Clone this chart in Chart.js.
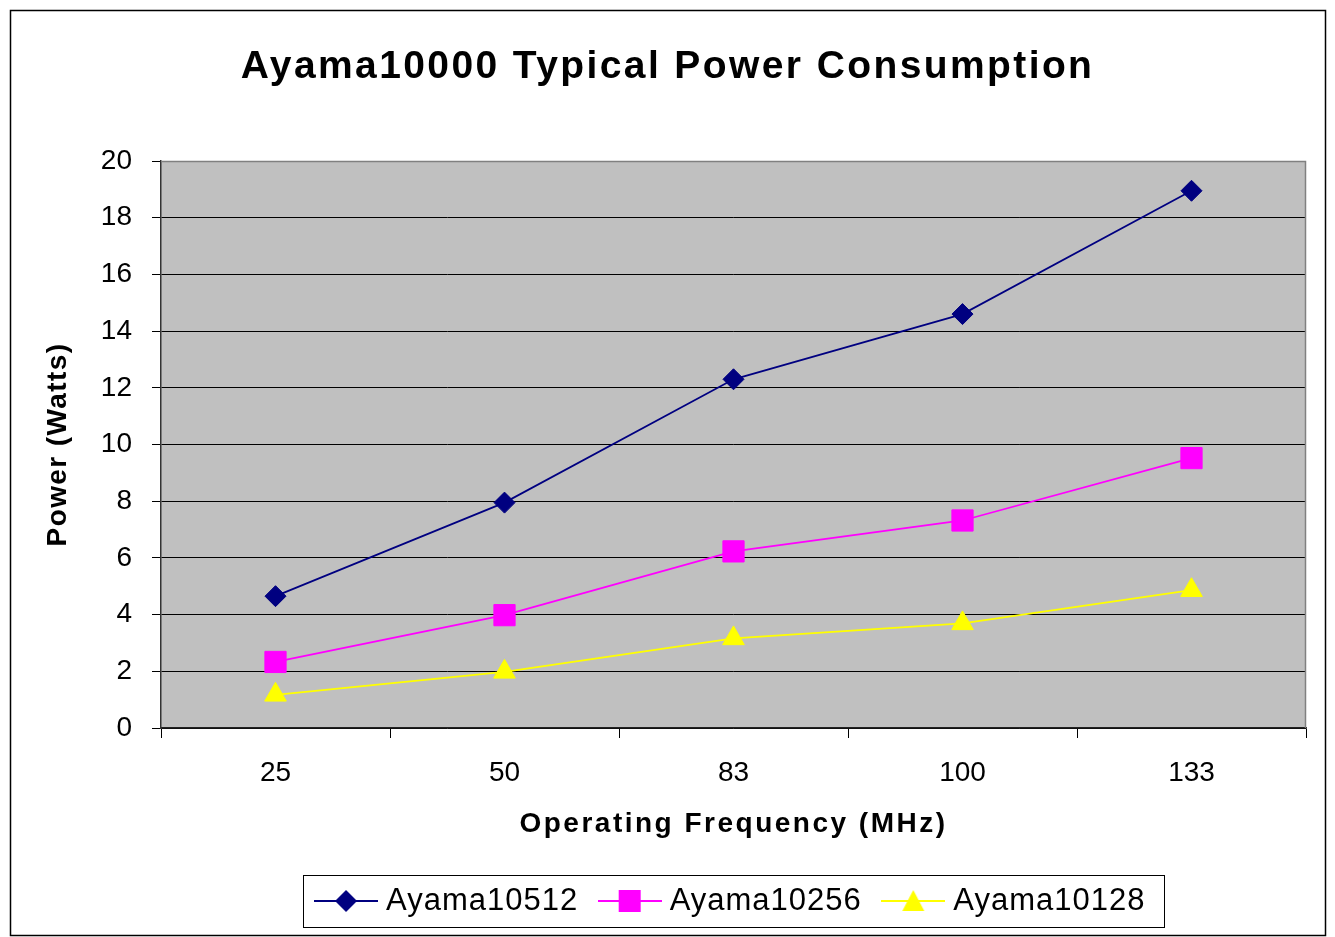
<!DOCTYPE html>
<html>
<head>
<meta charset="utf-8">
<title>Ayama10000 Typical Power Consumption</title>
<script src="https://cdn.jsdelivr.net/npm/chart.js@4/dist/chart.umd.min.js"></script>
<style>
  html, body { margin: 0; padding: 0; background: #fff; }
  canvas { display: block; }
</style>
</head>
<body>
<canvas id="powerChart" width="1335" height="937"></canvas>
<script>
// Operating frequency categories (MHz) and measured power per part (Watts)
const frequencies = ['25', '50', '83', '100', '133'];
const ayama10512 = [4.65, 7.95, 12.3, 14.6, 18.95];
const ayama10256 = [2.33, 3.98, 6.23, 7.32, 9.52];
const ayama10128 = [1.17, 1.98, 3.16, 3.69, 4.86];
const powerMin = 0;
const powerMax = 20;
const powerStep = 2;

Chart.defaults.font.family = "'Liberation Sans', Arial, sans-serif";
Chart.defaults.color = '#000';

// wraps an element's drawing methods so its text gets extra tracking
function withSpacing(el, methods, px) {
    if (!el || el._spaced) return;
    el._spaced = true;
    methods.forEach(m => {
        const orig = el[m];
        el[m] = function () {
            const ctx = this.ctx;
            const prev = ctx.letterSpacing;
            ctx.letterSpacing = px;
            const res = orig.apply(this, arguments);
            ctx.letterSpacing = prev;
            return res;
        };
    });
}

// legend sample: short line with the series marker in the middle
function legendIcon(color, style) {
    const c = document.createElement('canvas');
    c.width = 64;
    c.height = 26;
    const g = c.getContext('2d');
    g.strokeStyle = color;
    g.lineWidth = 2;
    g.beginPath();
    g.moveTo(0, 13);
    g.lineTo(64, 13);
    g.stroke();
    g.fillStyle = color;
    g.beginPath();
    if (style === 'rectRot') {
        g.moveTo(32, 2); g.lineTo(43, 13); g.lineTo(32, 24); g.lineTo(21, 13);
    } else if (style === 'rect') {
        g.rect(21, 2, 22, 22);
    } else {
        g.moveTo(32, 2); g.lineTo(43, 23); g.lineTo(21, 23);
    }
    g.closePath();
    g.fill();
    return c;
}

function series(label, data, color, style, radius) {
    return {
        label: label,
        data: data,
        borderColor: color,
        backgroundColor: color,
        borderWidth: 1.75,
        pointStyle: style,
        pointRadius: radius,
        pointHoverRadius: radius,
        pointBorderWidth: 1,
        pointBackgroundColor: color,
        pointBorderColor: color,
        tension: 0,
        fill: false,
        icon: legendIcon(color, style)
    };
}

const chartFrame = {
    id: 'chartFrame',
    beforeLayout(chart) {
        withSpacing(chart.titleBlock, ['draw'], '2.4px');
        withSpacing(chart.legend, ['fit', 'draw'], '1px');
        withSpacing(chart.scales.x, ['drawTitle'], '2.5px');
        withSpacing(chart.scales.y, ['drawTitle'], '1.4px');
    },
    beforeDraw(chart) {
        const ctx = chart.ctx;
        const a = chart.chartArea;
        ctx.save();
        ctx.fillStyle = '#fff';
        ctx.fillRect(0, 0, chart.width, chart.height);
        ctx.strokeStyle = '#000';
        ctx.lineWidth = 1.5;
        ctx.strokeRect(10.5, 10.5, 1315, 925);
        ctx.fillStyle = '#c0c0c0';
        ctx.fillRect(a.left, a.top, a.right - a.left, a.bottom - a.top);
        ctx.restore();
    },
    beforeDatasetsDraw(chart) {
        const ctx = chart.ctx;
        const a = chart.chartArea;
        ctx.save();
        ctx.strokeStyle = '#808080';
        ctx.lineWidth = 1.5;
        ctx.beginPath();
        ctx.moveTo(a.left, a.top + 0.5);
        ctx.lineTo(a.right - 0.5, a.top + 0.5);
        ctx.lineTo(a.right - 0.5, a.bottom);
        ctx.stroke();
        ctx.restore();
    },
    afterDraw(chart) {
        const boxes = chart.legend.legendHitBoxes;
        if (!boxes.length) return;
        const first = boxes[0];
        const last = boxes[boxes.length - 1];
        const mid = first.top + first.height / 2;
        const ctx = chart.ctx;
        ctx.save();
        ctx.strokeStyle = '#000';
        ctx.lineWidth = 1;
        const left = Math.round(first.left - 19) + 0.5;
        const right = Math.round(last.left + last.width + 19) + 0.5;
        ctx.strokeRect(left, Math.round(mid - 26) + 0.5, right - left, 52);
        ctx.restore();
    }
};

const ctx = document.getElementById('powerChart').getContext('2d');
const powerChart = new Chart(ctx, {
    type: 'line',
    data: {
        labels: frequencies,
        datasets: [
            series('Ayama10512', ayama10512, '#000080', 'rectRot', 10.5),
            series('Ayama10256', ayama10256, '#ff00ff', 'rect', 15),
            series('Ayama10128', ayama10128, '#ffff00', 'triangle', 12.5)
        ]
    },
    options: {
        responsive: false,
        animation: false,
        layout: {
            padding: { top: 10, left: 29, right: 29, bottom: 10.5 }
        },
        scales: {
            x: {
                type: 'category',
                offset: true,
                afterFit: scale => { scale.height = 130.5; },
                grid: {
                    offset: true,
                    drawOnChartArea: false,
                    drawTicks: true,
                    tickLength: 10,
                    tickColor: '#000'
                },
                border: { color: '#222', width: 1.5 },
                ticks: {
                    font: { size: 28 },
                    color: '#000',
                    padding: 18,
                    maxRotation: 0
                },
                title: {
                    display: true,
                    text: 'Operating Frequency (MHz)',
                    font: { size: 28, weight: 'bold' },
                    color: '#000',
                    padding: { top: 0, bottom: 17 }
                }
            },
            y: {
                min: powerMin,
                max: powerMax,
                afterFit: scale => { scale.width = 132; },
                grid: {
                    color: c => (c.tick && c.tick.value === powerMax) ? '#808080' : '#000',
                    lineWidth: 1,
                    drawTicks: true,
                    tickLength: 9,
                    tickColor: '#000'
                },
                border: { color: '#333', width: 1.5 },
                ticks: {
                    stepSize: powerStep,
                    font: { size: 28 },
                    color: '#000',
                    padding: 20
                },
                title: {
                    display: true,
                    text: 'Power (Watts)',
                    font: { size: 28, weight: 'bold' },
                    color: '#000',
                    padding: { top: 12, bottom: 0 }
                }
            }
        },
        plugins: {
            title: {
                display: true,
                text: 'Ayama10000 Typical Power Consumption',
                font: { size: 39, weight: 'bold' },
                color: '#000',
                padding: { top: 33.6, bottom: 70.6 }
            },
            legend: {
                display: true,
                position: 'bottom',
                fullSize: false,
                labels: {
                    usePointStyle: true,
                    pointStyleWidth: 49,
                    padding: 27,
                    font: { size: 31 },
                    color: '#000',
                    generateLabels: chart => chart.data.datasets.map((ds, i) => ({
                        text: ds.label,
                        pointStyle: ds.icon,
                        fillStyle: ds.borderColor,
                        strokeStyle: ds.borderColor,
                        lineWidth: 0,
                        fontColor: '#000',
                        hidden: false,
                        datasetIndex: i
                    }))
                }
            },
            tooltip: { enabled: false }
        }
    },
    plugins: [chartFrame]
});
</script>
</body>
</html>
